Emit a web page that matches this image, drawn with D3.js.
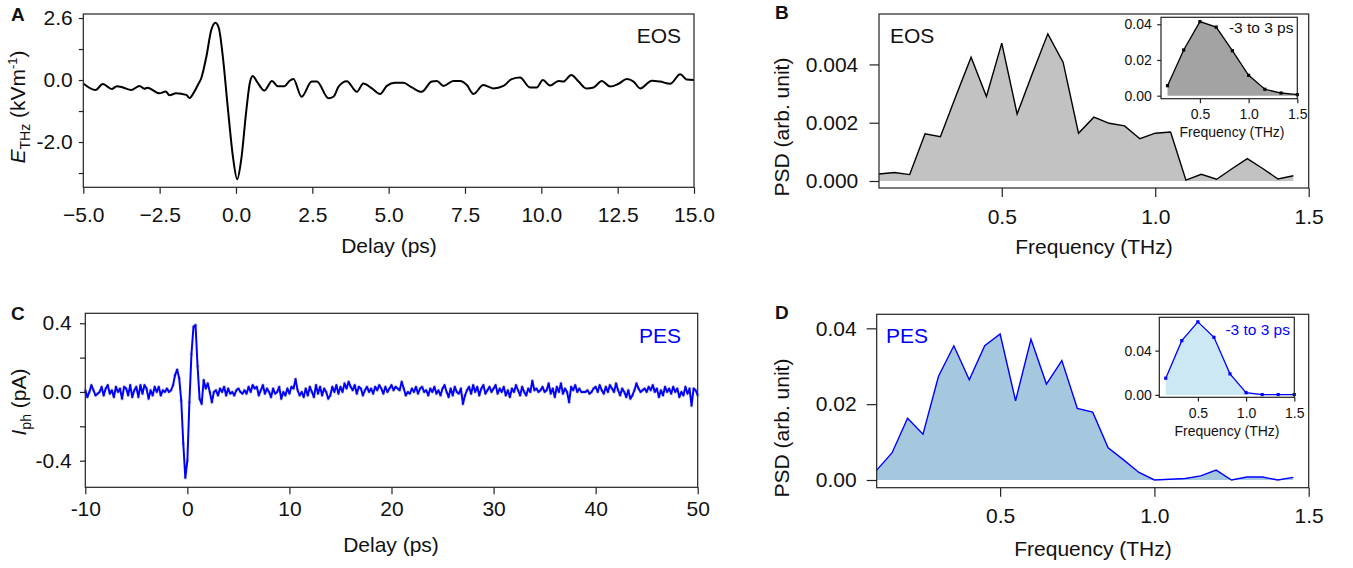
<!DOCTYPE html>
<html><head><meta charset="utf-8">
<script src="https://cdn.jsdelivr.net/npm/d3@7"></script>
<style>
body{margin:0;background:#fff}
svg{display:block}
text{font-family:"Liberation Sans",Arial,Helvetica,sans-serif;fill:#111}
</style>
</head><body>
<svg id="fig" width="1353" height="568"></svg>
<script>
// ---------------- DATA ----------------
// Panel A: EOS field trace (delay in ps, field in axis units)
const eosDelay = [-5.0,-4.6,-4.36,-4.07,-3.9,-3.7,-3.43,-3.16,-3.0,-2.9,-2.5,-2.3,-2.18,-1.96,-1.63,-1.52,-1.36,-1.25,-1.14,-0.97,-0.81,-0.67,-0.56,-0.43,-0.26,-0.1,0.04,0.17,0.34,0.45,0.55,0.68,0.93,1.18,1.37,1.59,1.75,1.88,2.15,2.48,2.65,3.03,3.2,3.36,3.63,3.96,4.17,4.45,4.72,4.94,5.21,5.48,5.76,6.08,6.41,6.58,6.79,7.12,7.34,7.56,7.78,8.1,8.43,8.76,9.03,9.3,9.63,9.85,10.05,10.29,10.56,10.72,10.98,11.22,11.47,11.71,11.98,12.25,12.53,12.8,13.02,13.24,13.62,13.89,14.22,14.55,14.76,15.0];
const eosField = [-0.11,-0.32,-0.13,-0.29,-0.2,-0.24,-0.32,-0.19,-0.28,-0.25,-0.43,-0.37,-0.49,-0.43,-0.48,-0.58,-0.37,-0.16,0.05,0.75,1.61,1.85,1.67,0.75,-0.97,-2.47,-3.2,-2.58,-0.97,-0.11,0.13,-0.04,-0.34,-0.03,-0.2,-0.2,-0.03,0.03,-0.54,-0.05,-0.05,-0.59,-0.53,-0.21,-0.04,-0.38,-0.11,-0.27,-0.45,-0.19,-0.09,-0.09,-0.24,-0.38,-0.05,-0.03,-0.19,-0.03,-0.03,-0.16,-0.45,-0.16,-0.27,-0.19,0.03,0.08,-0.24,-0.24,0.0,-0.18,-0.03,-0.05,0.16,-0.05,-0.27,-0.24,-0.03,-0.21,-0.12,0.03,-0.05,-0.27,-0.02,-0.05,-0.12,0.19,0.02,0.0];
const eosXTicks = [-5, -2.5, 0, 2.5, 5, 7.5, 10, 12.5, 15];
const eosYTicks = [2, 1, 0, -1, -2, -3];
const eosYTickLabels = ["2.6", "", "0.0", "", "-2.0", ""];

// Panel C: PES photocurrent trace, sampled every 0.2 ps from -10 to 50 ps
const pesStart = -10, pesStep = 0.2;
const pesCurrent = [
 0.01,-0.03,0.0,0.04,0.01,-0.02,-0.01,0.0,0.03,-0.02,0.02,0.04,-0.01,0.01,-0.03,0.03,0.0,0.02,-0.04,0.03,0.02,-0.02,0.04,-0.03,0.01,
 0.03,-0.03,0.04,-0.01,0.04,0.02,-0.04,0.01,-0.02,0.03,0.0,0.03,-0.02,0.01,0.0,0.02,0.0,0.01,0.04,0.10,0.13,0.08,-0.05,-0.30,-0.50,
 -0.40,-0.06,0.22,0.38,0.39,0.15,-0.04,-0.07,0.07,0.02,0.05,0.0,-0.06,0.0,0.01,-0.02,0.02,0.0,0.03,-0.02,0.02,-0.01,0.0,-0.02,0.01,
 0.02,0.0,-0.01,0.01,-0.01,0.03,0.0,0.04,0.02,0.03,-0.02,0.01,0.04,-0.01,0.02,0.0,-0.03,0.02,-0.01,0.0,0.03,-0.04,0.0,-0.02,0.02,
 -0.01,0.03,0.02,0.075,0.01,-0.02,0.0,-0.03,0.02,-0.02,0.03,0.0,-0.03,0.04,-0.01,0.03,-0.02,0.02,0.0,-0.04,-0.02,0.03,0.0,0.04,-0.01,
 0.03,0.0,0.05,0.02,0.06,0.03,0.01,0.04,-0.01,0.03,0.02,-0.02,0.01,0.03,0.0,0.02,-0.01,0.03,0.01,0.04,0.02,-0.01,0.03,0.0,0.02,
 0.04,0.01,0.03,0.02,0.01,0.06,0.02,-0.02,0.0,-0.01,0.02,0.0,0.03,-0.01,0.02,0.03,0.0,0.01,-0.02,0.02,0.0,0.03,-0.01,0.01,-0.02,
 0.02,0.04,0.0,-0.03,0.02,-0.02,0.03,0.0,-0.01,0.02,-0.07,-0.02,0.01,0.03,-0.01,0.04,0.0,0.03,-0.02,0.02,0.04,-0.01,0.01,0.03,0.0,
 0.02,0.04,-0.01,0.02,0.0,0.03,-0.02,0.01,-0.03,0.02,0.0,0.04,0.01,-0.02,0.03,0.0,-0.02,0.02,0.0,0.065,0.01,0.02,0.0,0.01,0.03,
 0.0,0.01,0.05,-0.01,0.02,-0.03,0.03,0.0,0.05,-0.01,0.02,0.0,-0.06,0.03,0.01,0.04,0.0,0.02,0.0,0.0,0.0,0.01,-0.01,0.0,0.02,
 0.03,0.0,0.04,0.01,-0.01,0.03,0.0,0.04,0.02,0.0,0.05,0.01,-0.02,0.02,0.0,-0.03,0.01,-0.04,-0.02,0.01,0.05,0.02,0.0,0.01,0.02,
 0.0,0.03,0.01,0.04,0.0,0.02,-0.03,0.01,-0.02,0.03,0.0,0.02,-0.01,0.03,0.0,0.02,-0.03,0.0,-0.02,0.03,-0.01,0.02,-0.08,0.02,0.01,
 -0.02];
const pesXTicks = [-10, 0, 10, 20, 30, 40, 50];
const pesYTicks = [0.4, 0.2, 0, -0.2, -0.4];
const pesYTickLabels = ["0.4", "", "0.0", "", "-0.4"];

// Panels B and D: power spectral density
const psdFreq = [0.1,0.15,0.2,0.25,0.3,0.35,0.4,0.45,0.5,0.55,0.6,0.65,0.7,0.75,0.8,0.85,0.9,0.95,1.0,1.05,1.1,1.15,1.2,1.25,1.3,1.35,1.4,1.45];
const eosPSD = [0.00024,0.00029,0.00022,0.00162,0.00152,0.0029,0.00425,0.0029,0.00473,0.0023,0.0037,0.00505,0.00407,0.00164,0.00219,0.00198,0.00189,0.00145,0.00164,0.00168,0.00003,0.00023,0.00006,0.00042,0.00077,0.00043,0.00007,0.00018];
const pesPSD = [0.0026,0.0072,0.0163,0.0121,0.0273,0.0354,0.0264,0.0354,0.0385,0.0209,0.0371,0.0253,0.0315,0.0189,0.0179,0.0085,0.0053,0.0020,0.0,0.0002,0.0004,0.0011,0.0026,0.0,0.0008,0.0008,0.0,0.0007];
// Insets: -3 to 3 ps window
const insetFreq = [0.167,0.333,0.5,0.667,0.833,1.0,1.167,1.333,1.5];
const eosInsetPSD = [0.0056,0.0256,0.0415,0.0384,0.0252,0.0114,0.0036,0.0015,0.0006];
const pesInsetPSD = [0.0151,0.049,0.066,0.052,0.019,0.002,0.0003,0.0003,0.0003];
const freqTicks = [0.5, 1.0, 1.5];
const eosPSDTicks = [0, 0.002, 0.004];
const pesPSDTicks = [0, 0.02, 0.04];
const eosInsetTicks = [0, 0.02, 0.04];
const pesInsetTicks = [0, 0.04];

// ---------------- DRAWING ----------------
const svg = d3.select("#fig");
const FS = 21, IFS = 14;
const BLUE = "#0000ff";

function panel(o) {
  const x = d3.scaleLinear().domain(o.xDomain).range([o.x0, o.x1]);
  const y = d3.scaleLinear().domain(o.yDomain).range([o.y1, o.y0]);
  const g = svg.append("g");
  const content = g.append("g");
  const axes = g.append("g");
  if (o.bg) axes.append("rect").attr("x", o.x0).attr("y", o.y0).attr("width", o.x1 - o.x0).attr("height", o.y1 - o.y0).attr("fill", "#fff");
  return {x, y, content, axes, o};
}
function finish(p) {
  const {x, y, axes, o} = p;
  const gx = axes.append("g").attr("transform", `translate(0,${o.y1})`)
    .call(d3.axisBottom(x).tickValues(o.xTicks).tickFormat(o.xFmt).tickSizeOuter(0).tickSize(o.xTickLen));
  const gy = axes.append("g").attr("transform", `translate(${o.x0},0)`)
    .call(d3.axisLeft(y).tickValues(o.yTicks).tickFormat(o.yFmt).tickSizeOuter(0).tickSize(o.yTickLen));
  [gx, gy].forEach(a => {
    a.attr("font-size", null).attr("font-family", null);
    a.select(".domain").remove();
    a.selectAll("line").attr("stroke", "#222").attr("stroke-width", 1.2);
    a.selectAll("text").style("font-size", o.fs + "px").attr("fill", "#111");
  });
  gx.selectAll("text").attr("dy", null).attr("y", o.xLabOff);
  gy.selectAll("text").attr("x", o.yLabOff);
  axes.append("rect").attr("x", o.x0).attr("y", o.y0).attr("width", o.x1 - o.x0).attr("height", o.y1 - o.y0)
    .attr("fill", "none").attr("stroke", "#222").attr("stroke-width", 1.2);
}
function txt(x, y, s, opts = {}) {
  return svg.append("text").attr("x", x).attr("y", y).text(s)
    .style("font-size", (opts.fs || FS) + "px")
    .attr("text-anchor", opts.anchor || "start")
    .attr("font-weight", opts.bold ? "bold" : null)
    .style("fill", opts.fill || "#111");
}
function rotLabel(x, y, parts, fill) {
  const t = svg.append("text").attr("transform", `translate(${x},${y}) rotate(-90)`)
    .attr("text-anchor", "middle").style("font-size", FS + "px").style("fill", fill || "#111");
  parts.forEach(p => {
    const s = t.append("tspan").text(p.t);
    if (p.italic) s.attr("font-style", "italic");
    if (p.fs) s.style("font-size", p.fs + "px");
    if (p.dy) s.attr("dy", p.dy);
  });
}

// ---- Panel A ----
{
  const p = panel({x0: 83.3, x1: 694, y0: 14, y1: 187.3, xDomain: [-5, 15], yDomain: [-3.46, 2.13],
    xTicks: eosXTicks, xFmt: d3.format(".1f"), yTicks: eosYTicks, yFmt: (d, i) => eosYTickLabels[i],
    xTickLen: 6.5, yTickLen: 4.5, xLabOff: 35, yLabOff: -10.6, fs: FS});
  const data = eosDelay.map((t, i) => [t, eosField[i]]);
  p.content.append("path").datum(data).attr("fill", "none").attr("stroke", "#000").attr("stroke-width", 2)
    .attr("stroke-linejoin", "round")
    .attr("d", d3.line().x(d => p.x(d[0])).y(d => p.y(d[1])).curve(d3.curveMonotoneX));
  finish(p);
  txt(681, 43, "EOS", {anchor: "end"});
  txt(11, 21, "A", {bold: true, fs: 19});
  txt(389, 253, "Delay (ps)", {anchor: "middle"});
  rotLabel(25, 107, [{t: "E", italic: true}, {t: "THz", fs: 14, dy: 5}, {t: " (kVm", dy: -5}, {t: "-1", fs: 13, dy: -8}, {t: ")", dy: 8}]);
}

// ---- Panel C ----
{
  const p = panel({x0: 85.3, x1: 697.7, y0: 313.3, y1: 487.3, xDomain: [-10, 50], yDomain: [-0.555, 0.458],
    xTicks: pesXTicks, xFmt: d => String(d), yTicks: pesYTicks, yFmt: (d, i) => pesYTickLabels[i],
    xTickLen: 7, yTickLen: 5.3, xLabOff: 29, yLabOff: -13.6, fs: FS});
  const data = pesCurrent.map((v, i) => [pesStart + pesStep * i, v]);
  p.content.selectAll("circle").data(data).join("circle")
    .attr("cx", d => p.x(d[0])).attr("cy", d => p.y(d[1])).attr("r", 1.9).attr("fill", "#cfcfcf");
  p.content.append("path").datum(data).attr("fill", "none").attr("stroke", BLUE).attr("stroke-width", 2)
    .attr("stroke-linejoin", "round")
    .attr("d", d3.line().x(d => p.x(d[0])).y(d => p.y(d[1])));
  finish(p);
  txt(681, 343, "PES", {anchor: "end", fill: BLUE});
  txt(11, 320, "C", {bold: true, fs: 19});
  txt(391, 552, "Delay (ps)", {anchor: "middle"});
  rotLabel(25.5, 402, [{t: "I", italic: true}, {t: "ph", fs: 14, dy: 5}, {t: " (pA)", dy: -5}]);
}

// ---- Panels B / D ----
function psdPanel(cfg) {
  const p = panel(cfg.main);
  const data = psdFreq.map((f, i) => [f, cfg.values[i]]);
  p.content.append("path").datum(data).attr("fill", cfg.fill)
    .attr("d", d3.area().x(d => p.x(d[0])).y0(p.y(0)).y1(d => p.y(d[1])));
  p.content.append("path").datum(data).attr("fill", "none").attr("stroke", cfg.line).attr("stroke-width", 1.4)
    .attr("d", d3.line().x(d => p.x(d[0])).y(d => p.y(d[1])));
  finish(p);
  const q = panel(Object.assign({bg: true}, cfg.inset));
  const idata = insetFreq.map((f, i) => [f, cfg.insetValues[i]]);
  q.axes.append("path").datum(idata).attr("fill", cfg.insetFill)
    .attr("d", d3.area().x(d => q.x(d[0])).y0(q.y(0)).y1(d => q.y(d[1])));
  q.axes.append("path").datum(idata).attr("fill", "none").attr("stroke", cfg.line).attr("stroke-width", 1.3)
    .attr("d", d3.line().x(d => q.x(d[0])).y(d => q.y(d[1])));
  q.axes.selectAll("rect.m").data(idata).join("rect").attr("class", "m")
    .attr("x", d => q.x(d[0]) - 1.6).attr("y", d => q.y(d[1]) - 1.6).attr("width", 3.2).attr("height", 3.2)
    .attr("fill", cfg.line);
  finish(q);
}

psdPanel({
  main: {x0: 879, x1: 1308.7, y0: 14, y1: 188, xDomain: [0.1, 1.5], yDomain: [-0.00024, 0.00573],
    xTicks: freqTicks, xFmt: d3.format(".1f"), yTicks: eosPSDTicks, yFmt: d3.format(".3f"),
    xTickLen: 9, yTickLen: 9.5, xLabOff: 36, yLabOff: -20.7, fs: FS},
  values: eosPSD, fill: "#c2c2c2", line: "#000",
  inset: {x0: 1161, x1: 1297.3, y0: 17.3, y1: 98.7, xDomain: [0.1, 1.5], yDomain: [-0.00168, 0.0439],
    xTicks: freqTicks, xFmt: d3.format(".1f"), yTicks: eosInsetTicks, yFmt: d3.format(".2f"),
    xTickLen: 4.5, yTickLen: 3.8, xLabOff: 20.5, yLabOff: -9.3, fs: IFS},
  insetValues: eosInsetPSD, insetFill: "#a3a3a3"
});
txt(890, 43, "EOS");
txt(775, 19, "B", {bold: true, fs: 19});
txt(1094, 254, "Frequency (THz)", {anchor: "middle"});
txt(1232, 137, "Frequency (THz)", {anchor: "middle", fs: IFS});
txt(1293.5, 33, "-3 to 3 ps", {anchor: "end", fs: 15.5});
rotLabel(788.6, 127, [{t: "PSD (arb. unit)"}]);

psdPanel({
  main: {x0: 876.7, x1: 1308.7, y0: 314.3, y1: 487.7, xDomain: [0.1, 1.5], yDomain: [-0.00203, 0.0437],
    xTicks: freqTicks, xFmt: d3.format(".1f"), yTicks: pesPSDTicks, yFmt: d3.format(".2f"),
    xTickLen: 9, yTickLen: 10, xLabOff: 35, yLabOff: -20, fs: FS},
  values: pesPSD, fill: "#a6c8df", line: BLUE,
  inset: {x0: 1159.3, x1: 1294.3, y0: 317.3, y1: 397.3, xDomain: [0.1, 1.5], yDomain: [-0.00217, 0.0701],
    xTicks: freqTicks, xFmt: d3.format(".1f"), yTicks: pesInsetTicks, yFmt: d3.format(".2f"),
    xTickLen: 4.3, yTickLen: 4, xLabOff: 20.5, yLabOff: -7.6, fs: IFS},
  insetValues: pesInsetPSD, insetFill: "#cde8f5"
});
txt(886, 343, "PES", {fill: BLUE});
txt(775, 319, "D", {bold: true, fs: 19});
txt(1093, 556, "Frequency (THz)", {anchor: "middle"});
txt(1227, 436, "Frequency (THz)", {anchor: "middle", fs: IFS});
txt(1290, 335, "-3 to 3 ps", {anchor: "end", fs: 15.5, fill: BLUE});
rotLabel(788.6, 428, [{t: "PSD (arb. unit)"}]);
</script>
</body></html>
